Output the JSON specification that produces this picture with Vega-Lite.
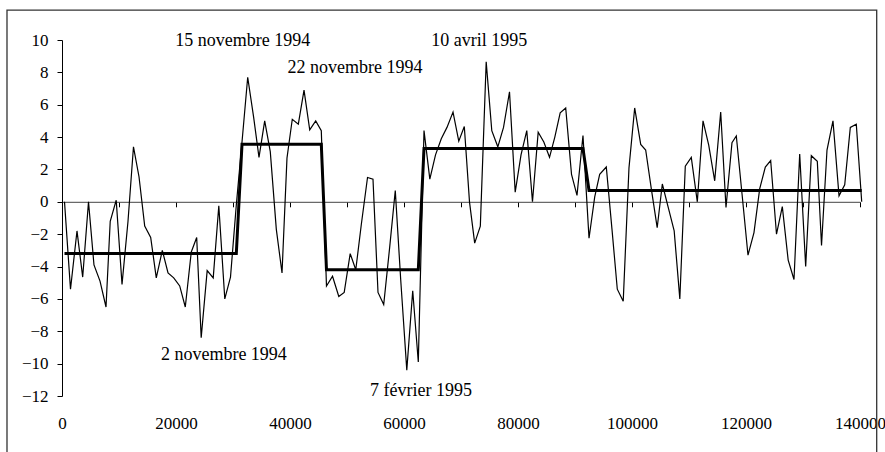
{
  "$schema": "https://vega.github.io/schema/vega-lite/v6.json",
  "width": 798,
  "height": 356,
  "autosize": {"type": "none"},
  "padding": {"left": 62, "top": 40, "right": 25, "bottom": 56},
  "background": "white",
  "config": {
    "view": {"stroke": null},
    "font": "Liberation Serif",
    "axis": {"labelOverlap": false, "grid": false, "title": null, "labelFont": "Liberation Serif", "labelFontSize": 17, "labelColor": "black", "tickSize": 5, "tickColor": "black", "domainWidth": 1, "labelFlush": false, "labelBound": false},
    "axisX": {"offset": -194.2, "labelPadding": 209, "domainColor": "#444"},
    "axisY": {"labelPadding": 9, "domainColor": "black"}
  },
  "datasets": {
    "series": [
      {"x": 440, "y": 0.0}, {"x": 1490, "y": -5.4}, {"x": 2630, "y": -1.8}, {"x": 3630, "y": -4.65}, {"x": 4650, "y": 0.0},
      {"x": 5610, "y": -3.9}, {"x": 6670, "y": -4.9}, {"x": 7720, "y": -6.5}, {"x": 8460, "y": -1.2}, {"x": 9510, "y": 0.1},
      {"x": 10530, "y": -5.1}, {"x": 11580, "y": -1.2}, {"x": 12540, "y": 3.4}, {"x": 13510, "y": 1.55}, {"x": 14510, "y": -1.5},
      {"x": 15560, "y": -2.2}, {"x": 16540, "y": -4.7}, {"x": 17600, "y": -3.0}, {"x": 18600, "y": -4.4}, {"x": 19600, "y": -4.7},
      {"x": 20650, "y": -5.2}, {"x": 21630, "y": -6.5}, {"x": 22680, "y": -3.1}, {"x": 23630, "y": -2.2}, {"x": 24420, "y": -8.4},
      {"x": 25470, "y": -4.25}, {"x": 26530, "y": -4.7}, {"x": 27510, "y": -0.25}, {"x": 28560, "y": -6.0}, {"x": 29560, "y": -4.65},
      {"x": 30580, "y": -0.2}, {"x": 31580, "y": 3.7}, {"x": 32580, "y": 7.7}, {"x": 33630, "y": 5.2}, {"x": 34560, "y": 2.75},
      {"x": 35560, "y": 5.0}, {"x": 36540, "y": 3.1}, {"x": 37600, "y": -1.7}, {"x": 38600, "y": -4.4}, {"x": 39470, "y": 2.7},
      {"x": 40400, "y": 5.1}, {"x": 41460, "y": 4.8}, {"x": 42460, "y": 6.9}, {"x": 43460, "y": 4.45}, {"x": 44510, "y": 5.0},
      {"x": 45490, "y": 4.4}, {"x": 46400, "y": -5.2}, {"x": 47460, "y": -4.6}, {"x": 48560, "y": -5.85}, {"x": 49510, "y": -5.6},
      {"x": 50560, "y": -3.2}, {"x": 51540, "y": -4.2}, {"x": 52510, "y": -1.4}, {"x": 53600, "y": 1.5}, {"x": 54560, "y": 1.4},
      {"x": 55440, "y": -5.6}, {"x": 56440, "y": -6.35}, {"x": 57490, "y": -2.8}, {"x": 58470, "y": 0.7}, {"x": 59420, "y": -4.8},
      {"x": 60490, "y": -10.4}, {"x": 61530, "y": -5.5}, {"x": 62510, "y": -9.9}, {"x": 63510, "y": 4.4}, {"x": 64530, "y": 1.4},
      {"x": 65530, "y": 2.9}, {"x": 66540, "y": 3.9}, {"x": 67540, "y": 4.6}, {"x": 68600, "y": 5.55}, {"x": 69610, "y": 3.75},
      {"x": 70580, "y": 4.65}, {"x": 71490, "y": 0.0}, {"x": 72400, "y": -2.55}, {"x": 73390, "y": -1.5}, {"x": 74420, "y": 8.65},
      {"x": 75400, "y": 4.4}, {"x": 76460, "y": 3.4}, {"x": 77460, "y": 4.6}, {"x": 78510, "y": 6.8}, {"x": 79510, "y": 0.6},
      {"x": 80530, "y": 2.9}, {"x": 81540, "y": 4.4}, {"x": 82540, "y": 0.0}, {"x": 83540, "y": 4.3}, {"x": 84530, "y": 3.7},
      {"x": 85530, "y": 2.75}, {"x": 86460, "y": 4.0}, {"x": 87400, "y": 5.5}, {"x": 88370, "y": 5.8}, {"x": 89390, "y": 1.7},
      {"x": 90350, "y": 0.4}, {"x": 91400, "y": 4.1}, {"x": 92460, "y": -2.25}, {"x": 93460, "y": 0.3}, {"x": 94330, "y": 1.7},
      {"x": 95490, "y": 2.15}, {"x": 96490, "y": -1.7}, {"x": 97420, "y": -5.4}, {"x": 98460, "y": -6.15}, {"x": 99470, "y": 2.1},
      {"x": 100470, "y": 5.8}, {"x": 101530, "y": 3.55}, {"x": 102400, "y": 3.2}, {"x": 103390, "y": 0.8}, {"x": 104420, "y": -1.6},
      {"x": 105320, "y": 1.1}, {"x": 106400, "y": -0.4}, {"x": 107400, "y": -1.8}, {"x": 108390, "y": -6.0}, {"x": 109350, "y": 2.2},
      {"x": 110400, "y": 2.75}, {"x": 111460, "y": 0.0}, {"x": 112460, "y": 5.0}, {"x": 113460, "y": 3.5}, {"x": 114510, "y": 1.3},
      {"x": 115560, "y": 5.55}, {"x": 116490, "y": -0.35}, {"x": 117540, "y": 3.65}, {"x": 118300, "y": 4.07}, {"x": 119300, "y": 0.5},
      {"x": 120350, "y": -3.3}, {"x": 121400, "y": -1.9}, {"x": 122400, "y": 0.8}, {"x": 123390, "y": 2.15}, {"x": 124330, "y": 2.55},
      {"x": 125350, "y": -2.0}, {"x": 126370, "y": -0.3}, {"x": 127400, "y": -3.6}, {"x": 128420, "y": -4.8}, {"x": 129420, "y": 2.95},
      {"x": 130470, "y": -4.0}, {"x": 131460, "y": 2.85}, {"x": 132510, "y": 2.5}, {"x": 133250, "y": -2.7}, {"x": 134210, "y": 3.2},
      {"x": 135260, "y": 5.0}, {"x": 136320, "y": 0.37}, {"x": 137320, "y": 1.05}, {"x": 138300, "y": 4.6}, {"x": 139350, "y": 4.8},
      {"x": 140300, "y": 0.0}
    ],
    "steps": [
      {"x": 440, "y": -3.2}, {"x": 30580, "y": -3.2}, {"x": 31580, "y": 3.56}, {"x": 45490, "y": 3.56},
      {"x": 46400, "y": -4.2}, {"x": 62510, "y": -4.2}, {"x": 63510, "y": 3.3}, {"x": 91400, "y": 3.3},
      {"x": 92460, "y": 0.7}, {"x": 140300, "y": 0.7}
    ],
    "labels": [
      {"x": 31700, "y": 9.96, "text": "15 novembre 1994"},
      {"x": 51400, "y": 8.25, "text": "22 novembre 1994"},
      {"x": 73200, "y": 9.96, "text": "10 avril 1995"},
      {"x": 28400, "y": -9.47, "text": "2 novembre 1994"},
      {"x": 63000, "y": -11.67, "text": "7 février 1995"}
    ]
  },
  "layer": [
    {
      "data": {"name": "series"},
      "mark": {"type": "line", "color": "black", "strokeWidth": 1.2},
      "encoding": {
        "x": {
          "field": "x", "type": "quantitative", "title": null,
          "scale": {"domain": [0, 140000], "nice": false, "zero": false},
          "axis": {
            "values": [0, 10000, 20000, 30000, 40000, 50000, 60000, 70000, 80000, 90000, 100000, 110000, 120000, 130000, 140000],
            "format": "d",
            "labelExpr": "datum.value % 20000 === 0 ? datum.label : ''"
          }
        },
        "y": {
          "field": "y", "type": "quantitative", "title": null,
          "scale": {"domain": [-12, 10], "nice": false},
          "axis": {"values": [-12, -10, -8, -6, -4, -2, 0, 2, 4, 6, 8, 10]}
        }
      }
    },
    {
      "data": {"name": "steps"},
      "mark": {"type": "line", "color": "black", "strokeWidth": 3},
      "encoding": {
        "x": {"field": "x", "type": "quantitative", "title": null,
          "axis": {
            "values": [0, 10000, 20000, 30000, 40000, 50000, 60000, 70000, 80000, 90000, 100000, 110000, 120000, 130000, 140000],
            "format": "d",
            "labelExpr": "datum.value % 20000 === 0 ? datum.label : ''"
          }},
        "y": {"field": "y", "type": "quantitative", "title": null,
          "axis": {"values": [-12, -10, -8, -6, -4, -2, 0, 2, 4, 6, 8, 10]}}
      }
    },
    {
      "data": {"name": "labels"},
      "mark": {"type": "text", "font": "Liberation Serif", "fontSize": 18, "color": "black", "align": "center", "baseline": "middle"},
      "encoding": {
        "x": {"field": "x", "type": "quantitative", "title": null,
          "axis": {
            "values": [0, 10000, 20000, 30000, 40000, 50000, 60000, 70000, 80000, 90000, 100000, 110000, 120000, 130000, 140000],
            "format": "d",
            "labelExpr": "datum.value % 20000 === 0 ? datum.label : ''"
          }},
        "y": {"field": "y", "type": "quantitative", "title": null,
          "axis": {"values": [-12, -10, -8, -6, -4, -2, 0, 2, 4, 6, 8, 10]}},
        "text": {"field": "text", "type": "nominal"}
      }
    },
    {
      "data": {"values": [{}]},
      "mark": {"type": "rect", "fill": null, "fillOpacity": 0, "stroke": "#333", "strokeWidth": 1.3},
      "encoding": {
        "x": {"datum": -9650, "type": "quantitative", "title": null,
          "axis": {
            "values": [0, 10000, 20000, 30000, 40000, 50000, 60000, 70000, 80000, 90000, 100000, 110000, 120000, 130000, 140000],
            "format": "d",
            "labelExpr": "datum.value % 20000 === 0 ? datum.label : ''"
          }},
        "x2": {"datum": 142930},
        "y": {"datum": 11.85, "type": "quantitative", "title": null,
          "axis": {"values": [-12, -10, -8, -6, -4, -2, 0, 2, 4, 6, 8, 10]}},
        "y2": {"datum": -15.7}
      }
    }
  ]
}
